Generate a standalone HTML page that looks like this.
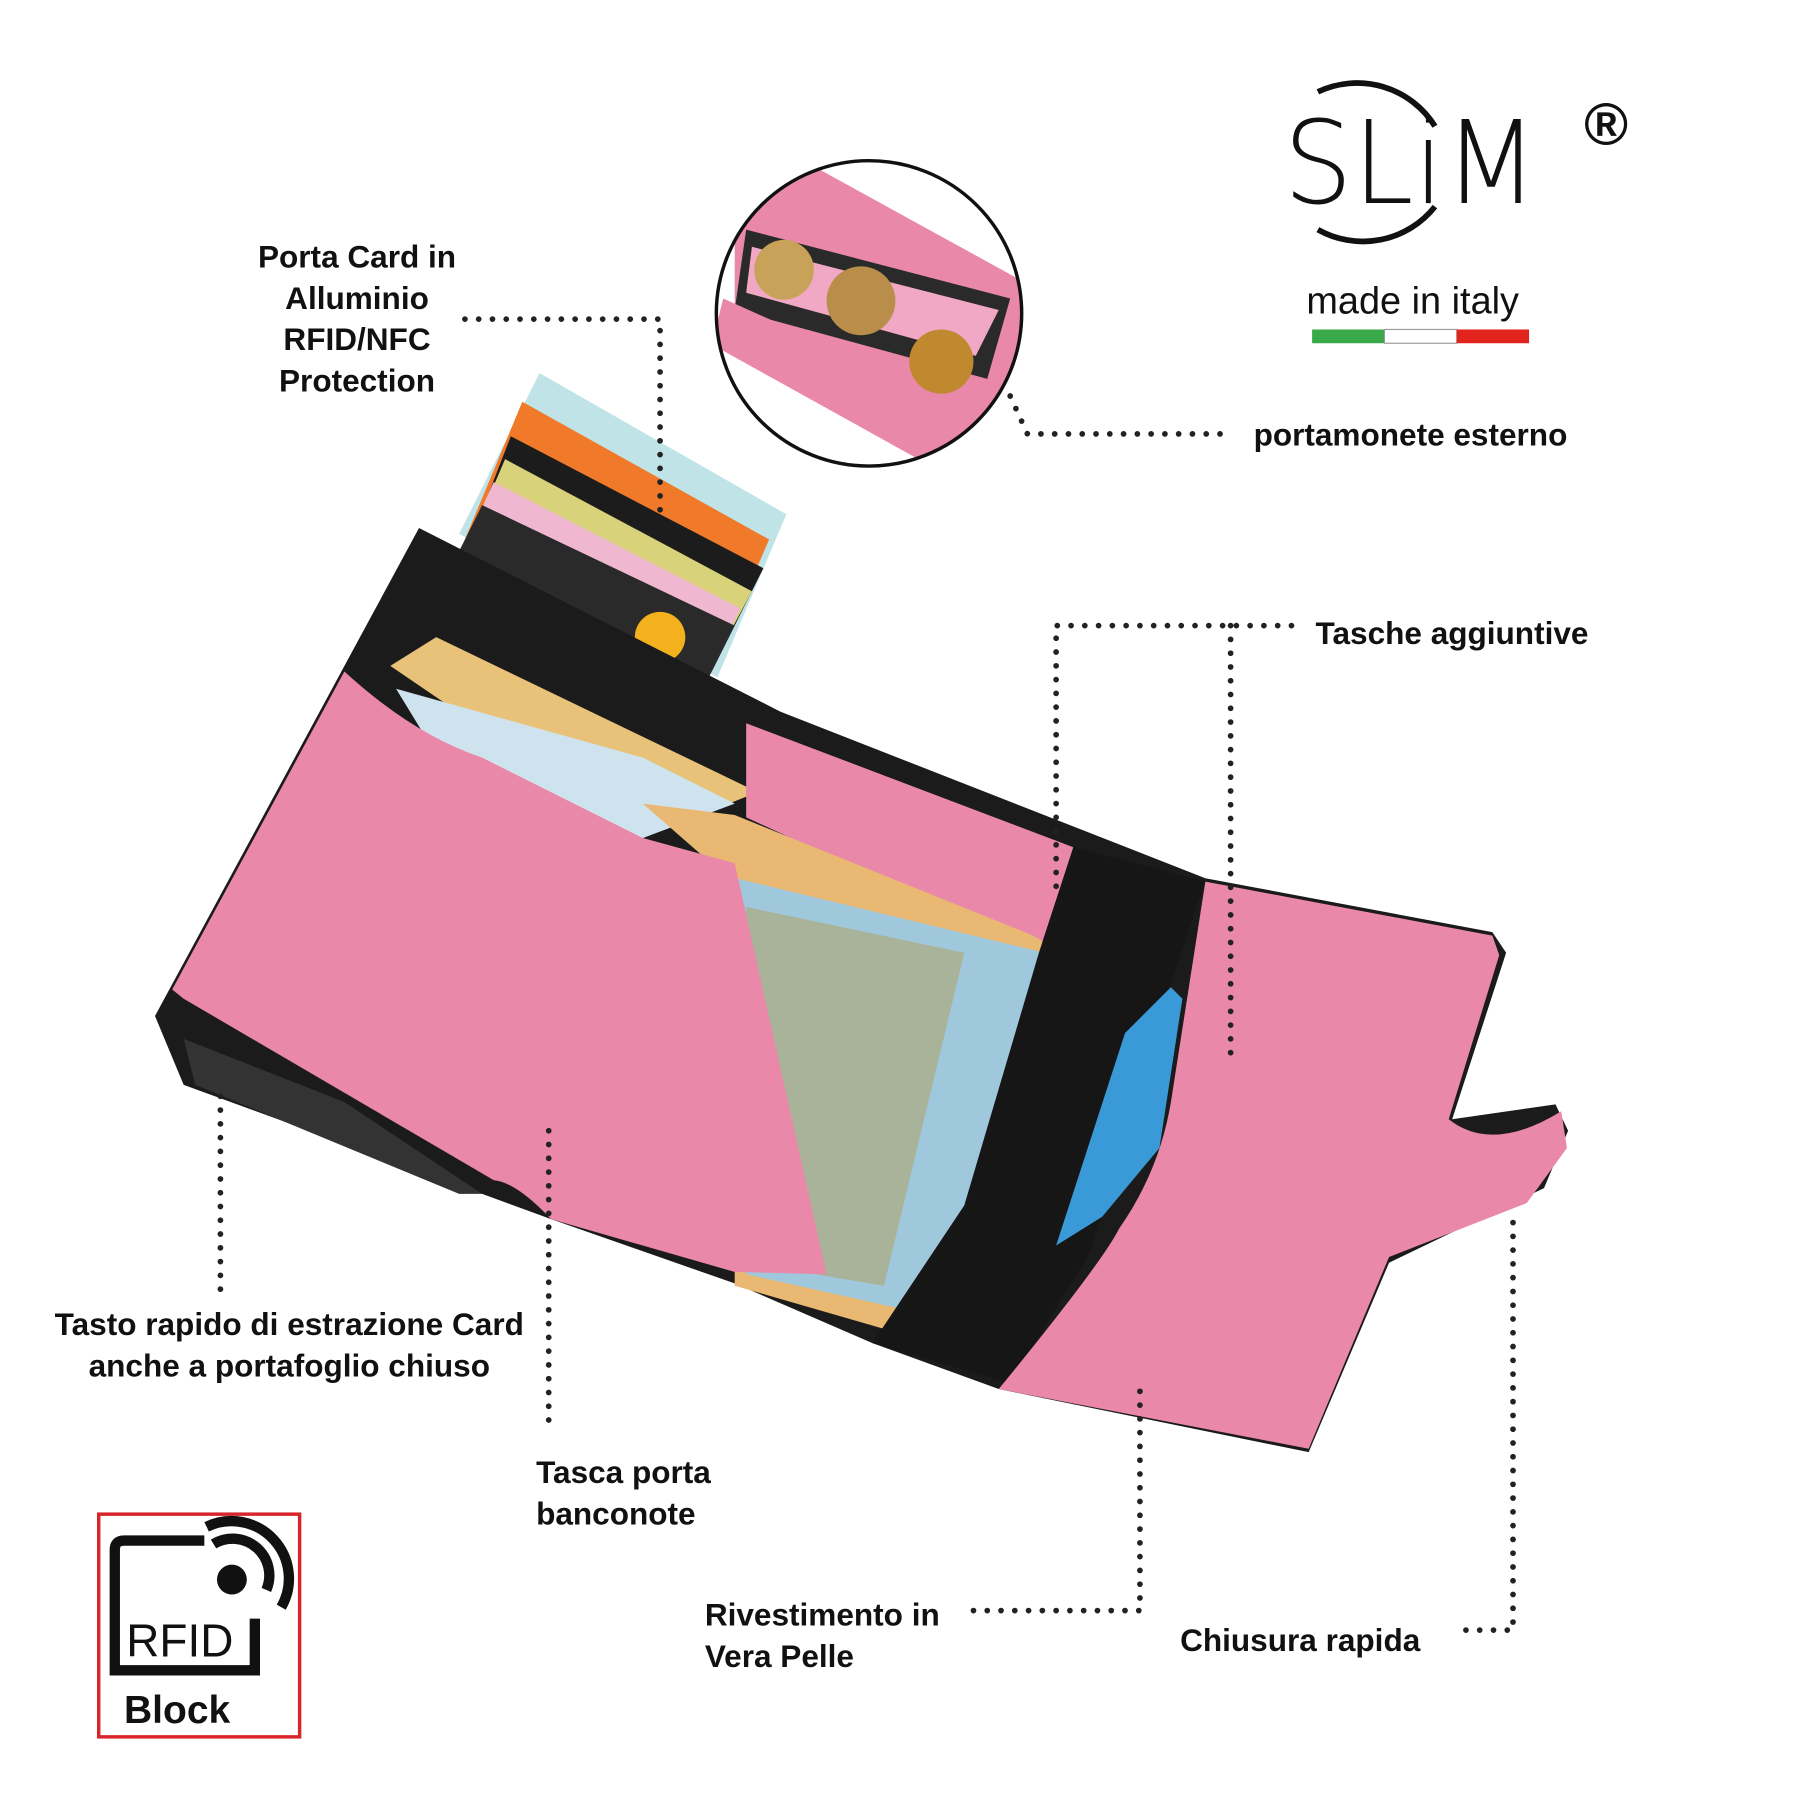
<!DOCTYPE html>
<html><head><meta charset="utf-8"><style>
html,body{margin:0;padding:0;background:#fff;}
svg{display:block;}
text{font-family:"Liberation Sans",sans-serif;}
.lb{font-weight:bold;font-size:27.5px;fill:#111;}
.dot{fill:none;stroke:#222;stroke-width:5;stroke-linecap:round;stroke-dasharray:0 12;}
</style></head><body>
<svg width="1800" height="1800" viewBox="0 0 1568 1568" xmlns="http://www.w3.org/2000/svg">
<rect width="1568" height="1568" fill="#fff"/>
<!-- cards -->
<polygon points="470,325 685,448 625,590 400,465" fill="#bfe3e6"/>
<polygon points="455,350 670,470 620,585 405,470" fill="#f07a2a"/>
<polygon points="445,380 665,495 620,585 410,470" fill="#1c1c1c"/>
<polygon points="440,400 655,515 615,590 410,470" fill="#d8d27a"/>
<polygon points="430,420 645,530 615,590 405,475" fill="#f0b8d0"/>
<polygon points="420,440 640,545 615,595 400,480" fill="#2a2a2a"/>
<circle cx="575" cy="555" r="22" fill="#f3b21d"/>
<!-- dark base -->
<polygon points="135,885 365,460 680,620 1050,765 1300,812 1312,830 1265,975 1355,962 1366,985 1345,1035 1210,1100 1140,1265 870,1210 760,1170 640,1118 480,1062 420,1040 160,945" fill="#1b1b1b"/>
<polygon points="160,905 300,960 420,1040 400,1040 170,945" fill="#333"/>
<!-- bills top -->
<polygon points="340,580 380,555 660,690 560,730" fill="#e9c27a"/>
<polygon points="345,600 560,660 640,700 560,730 400,690" fill="#cfe3ee"/>
<!-- upper middle pink -->
<polygon points="650,630 935,738 905,830 650,712" fill="#ea88a9"/>
<!-- bills middle -->
<polygon points="560,700 640,710 900,815 950,845 820,1172 640,1120 640,770" fill="#e9b873"/>
<polygon points="620,760 910,830 830,1150 650,1110" fill="#9fc8dd"/>
<polygon points="650,790 840,830 770,1120 650,1100" fill="#a9b39a"/>
<!-- black band -->
<polygon points="935,738 1050,768 1005,900 950,1090 880,1205 760,1170 840,1050 905,830" fill="#161616"/>
<path d="M1020,860 L1030,870 1010,1000 960,1060 920,1085 980,900Z" fill="#3a9ad8"/>
<!-- left pink panel -->
<path d="M150,862 L300,585 Q360,640 420,660 Q500,700 560,730 L640,752 L720,1110 L640,1108 L480,1062 Q450,1030 430,1028 L160,870 Z" fill="#ea88a9"/>
<!-- right pink panel -->
<path d="M1050,768 L1300,815 L1306,832 L1262,975 Q1300,1005 1360,968 L1365,1000 1330,1048 1210,1095 1140,1262 870,1210 Q960,1100 975,1070 Q1010,1020 1020,960 Z" fill="#ea88a9"/>
<!-- inset circle -->
<defs><clipPath id="cc"><circle cx="757" cy="273" r="133"/></clipPath></defs>
<g clip-path="url(#cc)">
<rect x="620" y="138" width="280" height="280" fill="#fff"/>
<polygon points="640,160 700,140 900,250 880,340 820,390 640,290" fill="#ea88a9"/>
<polygon points="650,200 880,260 860,330 640,270" fill="#2a2a2a"/>
<polygon points="655,215 870,270 850,310 650,255" fill="#f0a8c4"/>
<polygon points="630,260 830,350 880,330 890,360 800,400 620,300" fill="#ea88a9"/>
<circle cx="683" cy="235" r="26" fill="#c9a25a"/>
<circle cx="750" cy="262" r="30" fill="#b88e4a"/>
<circle cx="820" cy="315" r="28" fill="#c0892f"/>
</g>
<circle cx="757" cy="273" r="133" fill="none" stroke="#111" stroke-width="3"/>
<!-- logo -->
<path d="M1148,80 A80,80 0 0 1 1250,110" fill="none" stroke="#111" stroke-width="5"/>
<path d="M1250,180 A80,80 0 0 1 1148,200" fill="none" stroke="#111" stroke-width="5"/>
<text x="1118" y="177" font-size="100" fill="#111" style="font-family:'DejaVu Sans',sans-serif;font-weight:200" textLength="222" lengthAdjust="spacingAndGlyphs">SLiM</text>
<text x="1380" y="126" font-size="52" font-weight="bold" fill="#111">®</text>
<text x="1138" y="273" font-size="33" fill="#111">made in italy</text>
<rect x="1143" y="287" width="63" height="12" fill="#3aa94a"/>
<rect x="1206" y="287" width="63" height="12" fill="#fff" stroke="#999" stroke-width="1"/>
<rect x="1269" y="287" width="63" height="12" fill="#e3231d"/>
<!-- RFID box -->
<rect x="86" y="1319" width="175" height="194" fill="#fff" stroke="#d8252a" stroke-width="3"/>
<path d="M178,1342 L108,1342 Q100,1342 100,1350 L100,1455 L222,1455 L222,1410" fill="none" stroke="#111" stroke-width="9"/>
<circle cx="202" cy="1376" r="13" fill="#111"/>
<path d="M186,1345 A32,32 0 0 1 232,1385" fill="none" stroke="#111" stroke-width="9"/>
<path d="M180,1330 A50,50 0 0 1 245,1400" fill="none" stroke="#111" stroke-width="9"/>
<text x="110" y="1443" font-size="40" fill="#111">RFID</text>
<text x="108" y="1501" font-size="34" font-weight="bold" fill="#111">Block</text>
<!-- dotted lines -->
<path class="dot" d="M405,278 L575,278 L575,455"/>
<path class="dot" d="M880,345 L895,378 L1070,378"/>
<path class="dot" d="M1125,545 L920,545 L920,780"/>
<path class="dot" d="M1072,545 L1072,920"/>
<path class="dot" d="M192,955 L192,1125"/>
<path class="dot" d="M478,985 L478,1240"/>
<path class="dot" d="M993,1212 L993,1403 L840,1403"/>
<path class="dot" d="M1318,1065 L1318,1420 L1272,1420"/>
<!-- labels -->
<g class="lb" text-anchor="middle">
<text x="311" y="233">Porta Card in</text>
<text x="311" y="269">Alluminio</text>
<text x="311" y="305">RFID/NFC</text>
<text x="311" y="341">Protection</text>
<text x="252" y="1163">Tasto rapido di estrazione Card</text>
<text x="252" y="1199">anche a portafoglio chiuso</text>
</g>
<g class="lb">
<text x="1092" y="388">portamonete esterno</text>
<text x="1146" y="561">Tasche aggiuntive</text>
<text x="467" y="1292">Tasca porta</text>
<text x="467" y="1328">banconote</text>
<text x="614" y="1416">Rivestimento in</text>
<text x="614" y="1452">Vera Pelle</text>
<text x="1028" y="1438">Chiusura rapida</text>
</g>
</svg>
</body></html>
